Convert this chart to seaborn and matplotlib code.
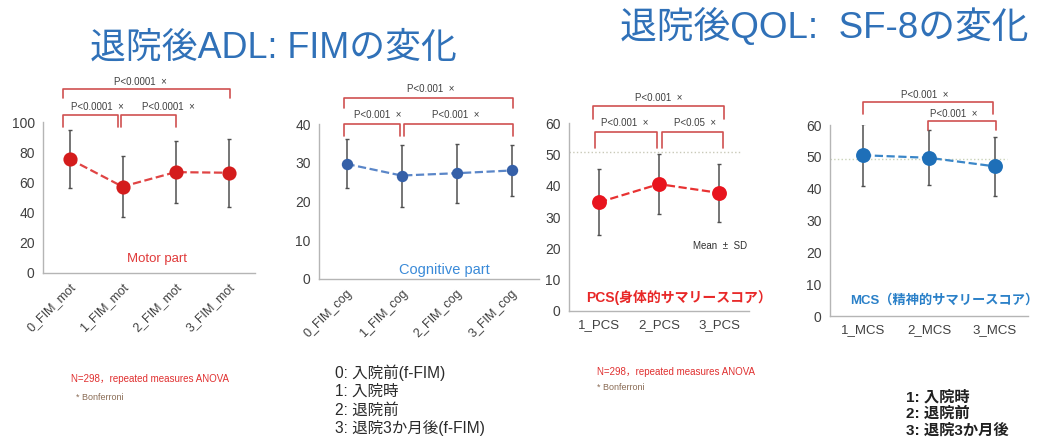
import numpy as np
import matplotlib
matplotlib.use("Agg")
import matplotlib.pyplot as plt
import seaborn as sns

# --- data (mean, SD) ---
fim_mot_labels = ["0_FIM_mot", "1_FIM_mot", "2_FIM_mot", "3_FIM_mot"]
fim_mot_mean = [75.5, 57.2, 66.8, 66.4]
fim_mot_sd = [19.0, 20.2, 20.3, 22.6]

fim_cog_labels = ["0_FIM_cog", "1_FIM_cog", "2_FIM_cog", "3_FIM_cog"]
fim_cog_mean = [29.7, 26.7, 27.3, 28.0]
fim_cog_sd = [6.3, 8.0, 7.6, 6.7]

pcs_labels = ["1_PCS", "2_PCS", "3_PCS"]
pcs_mean = [34.7, 40.5, 37.7]
pcs_sd = [10.6, 9.6, 9.2]

mcs_labels = ["1_MCS", "2_MCS", "3_MCS"]
mcs_mean = [50.5, 49.7, 47.0]
mcs_sd = [9.8, 8.7, 9.3]

pcs_ref = 50.7
mcs_ref = 49.3

sns.set_theme(style="white")
plt.rcParams["font.family"] = ["Liberation Sans", "Noto Sans CJK JP", "DejaVu Sans"]

W, H = 1039, 437
fig = plt.figure(figsize=(W / 100, H / 100), dpi=100)
fig.patch.set_facecolor("white")

BRACKET = "#d05050"
GRID = "#b5b5b5"
TXT = "#404040"


def axes_at(l, t, r, b):
    return fig.add_axes([l / W, 1 - b / H, (r - l) / W, (b - t) / H])


def ftext(x, y, s, **kw):
    fig.text(x / W, 1 - y / H, s, **kw)


def panel(ax, labels, mean, sd, ymax, step, mcol, lcol, msize, rotate):
    n = len(labels)
    sns.pointplot(x=labels, y=mean, ax=ax, color=lcol, linestyles="--",
                  markers="o", errorbar=None, markersize=msize,
                  linewidth=1.6, markerfacecolor=mcol, markeredgecolor=mcol,
                  zorder=3)
    ax.errorbar(np.arange(n), mean, yerr=sd, fmt="none", ecolor="#505050",
                elinewidth=1.1, capsize=1.5, capthick=1.0, zorder=2)
    ax.set_xlim(-0.5, n - 0.5)
    ax.set_ylim(0, ymax)
    ax.set_yticks(np.arange(0, ymax + 1, step))
    ax.set_xticks(np.arange(-0.5, n), minor=True)
    for s in ["top", "right"]:
        ax.spines[s].set_visible(False)
    for s in ["left", "bottom"]:
        ax.spines[s].set_color(GRID)
        ax.spines[s].set_linewidth(1.0)
    ax.tick_params(axis="y", length=3, color=GRID, labelsize=10,
                   labelcolor=TXT, pad=3)
    ax.tick_params(axis="x", which="major", length=0, labelsize=9.5,
                   labelcolor=TXT, pad=6)
    ax.tick_params(axis="x", which="minor", length=4, color=GRID)
    if rotate:
        plt.setp(ax.get_xticklabels(), rotation=45, ha="right",
                 rotation_mode="anchor", fontsize=9)
    ax.set_xlabel("")
    ax.set_ylabel("")
    ax.set_facecolor("white")


def bracket(ax, x0, x1, ytop, yleg, text, tx, ty):
    ax.plot([x0, x0, x1, x1], [yleg, ytop, ytop, yleg], color=BRACKET,
            lw=1.2, clip_on=False, zorder=4)
    ax.text(tx, ty, text, ha="center", va="center", fontsize=7,
            color=TXT, clip_on=False)


# panel 1: motor FIM
ax1 = axes_at(43, 122, 255, 273)
panel(ax1, fim_mot_labels, fim_mot_mean, fim_mot_sd, 100, 20,
      "#d41c1c", "#e04444", 9, True)
bracket(ax1, -0.12, 3.03, 122, 116, "P<0.0001  ×", 1.33, 126.5)
bracket(ax1, -0.12, 0.92, 104.6, 97, "P<0.0001  ×", 0.52, 110)
bracket(ax1, 0.97, 2.0, 104.6, 97, "P<0.0001  ×", 1.86, 110)
ax1.text(1.66, 9, "Motor part", ha="center", va="center", fontsize=9.5,
         color="#e03a3a")

# panel 2: cognitive FIM
ax2 = axes_at(319, 124, 539, 279)
panel(ax2, fim_cog_labels, fim_cog_mean, fim_cog_sd, 40, 10,
      "#3560a8", "#5a86c8", 7, True)
bracket(ax2, -0.04, 3.02, 46.7, 44.2, "P<0.001  ×", 1.53, 49)
bracket(ax2, -0.04, 0.98, 40, 37, "P<0.001  ×", 0.56, 42.4)
bracket(ax2, 1.04, 3.02, 40, 37, "P<0.001  ×", 1.98, 42.4)
ax2.text(1.78, 2.4, "Cognitive part", ha="center", va="center",
         fontsize=10.5, color="#3a8ad8")

# panel 3: PCS
ax3 = axes_at(569, 123, 749, 311)
panel(ax3, pcs_labels, pcs_mean, pcs_sd, 60, 10,
      "#e8141e", "#e83232", 9.5, False)
ax3.plot([-0.5, 2.37], [pcs_ref, pcs_ref], color="#c9c9b8", lw=1,
         ls=":", zorder=1)
bracket(ax3, -0.1, 2.08, 65.3, 61.3, "P<0.001  ×", 0.99, 68)
bracket(ax3, -0.07, 0.96, 57, 52, "P<0.001  ×", 0.43, 60)
bracket(ax3, 1.05, 2.07, 57, 52, "P<0.05  ×", 1.6, 60)
ax3.text(1.57, 20.7, "Mean  ±  SD", ha="left", va="center", fontsize=7,
         color="#303030")
ax3.text(-0.22, 4.2, "PCS(身体的サマリースコア）", ha="left", va="center",
         fontsize=10, color="#e82828", fontweight="bold", clip_on=False)

# panel 4: MCS
ax4 = axes_at(830, 125, 1028, 316)
panel(ax4, mcs_labels, mcs_mean, mcs_sd, 60, 10,
      "#1e6fb8", "#3a86c8", 9.5, False)
ax4.plot([-0.5, 2.18], [mcs_ref, mcs_ref], color="#c9d2b8", lw=1,
         ls=":", zorder=1)
bracket(ax4, 0.0, 1.97, 67.1, 63.3, "P<0.001  ×", 0.94, 69.5)
bracket(ax4, 0.99, 2.02, 61.4, 58.5, "P<0.001  ×", 1.38, 63.6)
ax4.text(-0.2, 5, "MCS（精神的サマリースコア）", ha="left", va="center",
         fontsize=9.5, color="#2a80c8", fontweight="bold", clip_on=False)

# titles
TITLE = "#3071b8"
ftext(90, 48, "退院後ADL: FIMの変化", fontsize=25.8, color=TITLE, va="center")
ftext(620, 27, "退院後QOL:  SF-8の変化", fontsize=26.5, color=TITLE, va="center")

# notes
ftext(71, 379, "N=298，repeated measures ANOVA", fontsize=7, color="#e03030",
      va="center")
ftext(76, 398, "* Bonferroni", fontsize=6.5, color="#8a6c55", va="center")
ftext(597, 372, "N=298，repeated measures ANOVA", fontsize=7, color="#e03030",
      va="center")
ftext(597, 388, "* Bonferroni", fontsize=6.5, color="#8a6c55", va="center")

legend_fim = ["0: 入院前(f-FIM)", "1: 入院時", "2: 退院前", "3: 退院3か月後(f-FIM)"]
for k, s in enumerate(legend_fim):
    ftext(335, 373 + 18.5 * k, s, fontsize=11.2, color="#2a2a2a", va="center")

legend_sf8 = ["1: 入院時", "2: 退院前", "3: 退院3か月後"]
for k, s in enumerate(legend_sf8):
    ftext(906, 397 + 17 * k, s, fontsize=11, color="#202020", va="center",
          fontweight="bold")

fig.savefig("out.png", dpi=100)
